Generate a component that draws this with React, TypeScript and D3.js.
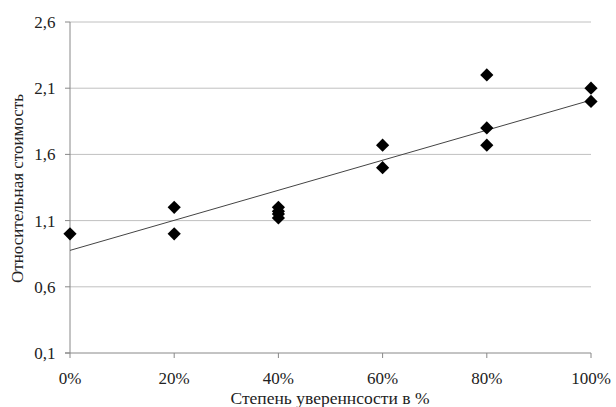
import React from "react";
import * as d3 from "d3";

const xTicks = [0, 0.2, 0.4, 0.6, 0.8, 1.0];
const yTicks = [0.1, 0.6, 1.1, 1.6, 2.1, 2.6];
const pointX = [0, 0.2, 0.2, 0.4, 0.4, 0.4, 0.4, 0.6, 0.6, 0.8, 0.8, 0.8, 1.0, 1.0];
const pointY = [1.0, 1.2, 1.0, 1.2, 1.17, 1.15, 1.12, 1.67, 1.5, 2.2, 1.8, 1.67, 2.1, 2.0];
const trendX = [0, 1.0];
const trendY = [0.875, 2.01];
const yTitle = "Относительная стоимость";
const xTitle = "Степень увереннсости в %";

export default function App() {
  const W = 616, H = 407;
  const left = 70, right = 591, top = 22, bottom = 353;
  const x = d3.scaleLinear().domain([0, 1]).range([left, right]);
  const y = d3.scaleLinear().domain([0.1, 2.6]).range([bottom, top]);
  const fmtY = (v: number) => d3.format(".1f")(v).replace(".", ",");
  const fmtX = (v: number) => `${Math.round(v * 100)}%`;
  const r = 6.6;
  const diamond = `M0,${-r}L${r},0L0,${r}L${-r},0Z`;
  const line = d3.line<number>().x((_, i) => x(trendX[i])).y((d) => y(d));
  const ts = { fontFamily: "'Liberation Serif', 'Times New Roman', 'DejaVu Serif', serif" };
  return (
    <svg width={W} height={H} style={{ position: "absolute", left: 0, top: 0, background: "#fff" }}>
      {yTicks.map((t) => (
        <g key={"y" + t}>
          {t > 0.1 && (
            <line x1={left} x2={right} y1={y(t)} y2={y(t)} stroke="#c0c0c0" strokeWidth={1} />
          )}
          <line x1={left - 5} x2={left} y1={y(t)} y2={y(t)} stroke="#888" strokeWidth={1} />
          <text x={55.5} y={y(t)} dy="0.35em" textAnchor="end" fontSize={17} fill="#222" style={ts}>
            {fmtY(t)}
          </text>
        </g>
      ))}
      <line x1={left} x2={left} y1={top} y2={bottom} stroke="#888" strokeWidth={1} />
      <line x1={left - 5} x2={right} y1={bottom} y2={bottom} stroke="#888" strokeWidth={1} />
      {xTicks.map((t) => (
        <g key={"x" + t}>
          <line x1={x(t)} x2={x(t)} y1={bottom} y2={bottom + 5} stroke="#888" strokeWidth={1} />
          <text x={x(t)} y={383.5} textAnchor="middle" fontSize={17} fill="#222" style={ts}>
            {fmtX(t)}
          </text>
        </g>
      ))}
      <path d={line(trendY) || ""} fill="none" stroke="#444" strokeWidth={1} />
      {pointX.map((px, i) => (
        <path key={"p" + i} d={diamond} transform={`translate(${x(px)},${y(pointY[i])})`} fill="#000" />
      ))}
      <text x={0} y={0} transform={`translate(23,${(top + bottom) / 2 + 1}) rotate(-90)`} textAnchor="middle" fontSize={17} fill="#222" style={ts}>
        {yTitle}
      </text>
      <text x={330} y={404} textAnchor="middle" fontSize={17.5} fill="#222" style={ts}>
        {xTitle}
      </text>
    </svg>
  );
}
